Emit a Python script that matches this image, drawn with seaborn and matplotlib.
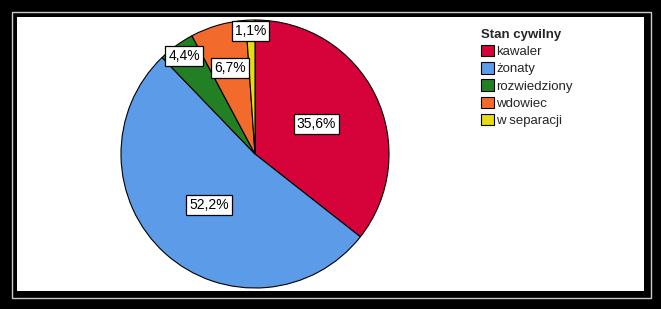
import matplotlib
matplotlib.use("Agg")
import matplotlib.pyplot as plt
import seaborn as sns
import numpy as np
from matplotlib.patches import Rectangle

# ---- data ----
categories = ["kawaler", "żonaty", "rozwiedziony", "wdowiec", "w separacji"]
percent = [35.6, 52.2, 4.4, 6.7, 1.1]
pct_labels = ["35,6%", "52,2%", "4,4%", "6,7%", "1,1%"]
legend_title = "Stan cywilny"

# ---- style ----
colors = ["#d6033b", "#5b9be8", "#237f23", "#f36b2c", "#e6dc12"]
label_dist = [0.51, 0.51, 0.90, 0.67, 0.92]

sns.set_theme(style="white")
plt.rcParams["font.family"] = ["Liberation Sans", "DejaVu Sans"]
palette = sns.color_palette(colors)

W, H = 661, 309
fig = plt.figure(figsize=(W / 100, H / 100), dpi=100)
fig.patch.set_facecolor("black")


def px_rect(x0, y0, x1, y1, **kw):
    r = Rectangle((x0 / W, 1 - y1 / H), (x1 - x0) / W, (y1 - y0) / H,
                  transform=fig.transFigure, **kw)
    fig.add_artist(r)
    return r


# frame: thin light line and white interior
px_rect(11.5, 11.5, 650.5, 297.5, fill=False, ec="#c8c8c8", lw=1.0, zorder=-6)
px_rect(17, 17, 644, 291, fc="white", ec="none", zorder=-5)

cx, cy, R = 255, 154, 134
ax = fig.add_axes([(cx - R) / W, (H - cy - R) / H, 2 * R / W, 2 * R / H])
ax.set_facecolor("none")

wedges, _ = ax.pie(percent, colors=palette, startangle=90, counterclock=False,
                   wedgeprops=dict(edgecolor="black", linewidth=0.8))
ax.set_xlim(-1, 1)
ax.set_ylim(-1, 1)
ax.set_aspect("equal")
ax.axis("off")

for w, lab, d in zip(wedges, pct_labels, label_dist):
    ang = np.deg2rad((w.theta1 + w.theta2) / 2)
    ax.text(d * np.cos(ang), d * np.sin(ang), lab, ha="center", va="center",
            fontsize=10, color="black",
            bbox=dict(boxstyle="square,pad=0.22", fc="white", ec="black", lw=0.9))

leg = fig.legend(wedges, categories, title=legend_title,
                 loc="upper left", bbox_to_anchor=(481 / W, 1 - 29 / H),
                 frameon=False, fontsize=9.5, title_fontproperties={"weight": "bold", "size": 9.5},
                 handlelength=0.95, handleheight=0.95, handletextpad=0.2,
                 labelspacing=0.3, borderpad=0, borderaxespad=0)
leg._legend_box.align = "left"

fig.savefig("out.png", dpi=100, facecolor=fig.get_facecolor())
